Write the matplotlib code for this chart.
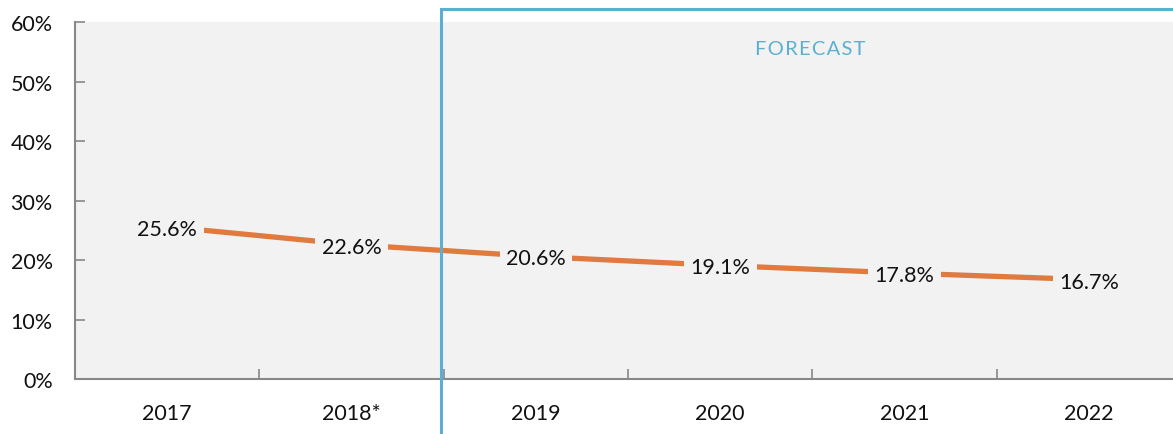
import numpy as np
import matplotlib.pyplot as plt
from matplotlib.patches import Rectangle

years = ["2017", "2018*", "2019", "2020", "2021", "2022"]
share = [25.6, 22.6, 20.6, 19.1, 17.8, 16.7]
y_ticks = [0, 10, 20, 30, 40, 50, 60]

plt.rcParams['font.family'] = ['Lato', 'DejaVu Sans']

fig = plt.figure(figsize=(11.73, 4.35), dpi=100)
ax = fig.add_axes([0.0639, 0.1264, 0.943, 0.8206])
ax.set_facecolor("#f2f2f2")

x = np.arange(len(years))
ax.plot(x, share, color="#e07a3f", linewidth=3.8, solid_capstyle="butt", zorder=2)

for xi, v in zip(x, share):
    ax.text(xi, v, f"{v:.1f}%", ha="center", va="center_baseline", fontsize=15.5, color="#111111",
            bbox=dict(boxstyle="square,pad=0.3", facecolor="#f2f2f2", edgecolor="none"), zorder=3)

ax.set_xlim(-0.5, len(years) - 0.5)
ax.set_ylim(0, 60)
ax.set_yticks(y_ticks)
ax.set_yticklabels([f"{t}%" for t in y_ticks], fontsize=15.5, color="#111111")
ax.set_xticks(x)
ax.set_xticklabels(years, fontsize=15.5, color="#111111")
ax.set_xticks(x[:-1] + 0.5, minor=True)
ax.tick_params(axis="x", which="major", length=0, pad=17)
ax.tick_params(axis="x", which="minor", direction="in", length=7, width=1.2, color="#888888")
ax.tick_params(axis="y", direction="in", length=7, width=1.2, color="#888888", pad=16)

for side in ["top", "right"]:
    ax.spines[side].set_visible(False)
for side in ["left", "bottom"]:
    ax.spines[side].set_color("#888888")
    ax.spines[side].set_linewidth(1.5)

# forecast box
ax.add_patch(Rectangle((1.488, -15), 10, 77.2, fill=False, edgecolor="#5bb0d1",
                       linewidth=2.2, clip_on=False, zorder=4))
ax.text(3.49, 55.5, "\u200a".join("FORECAST"), ha="center", va="center",
        fontsize=14.5, color="#5bb0d1")

fig.savefig("out.png", dpi=100)
